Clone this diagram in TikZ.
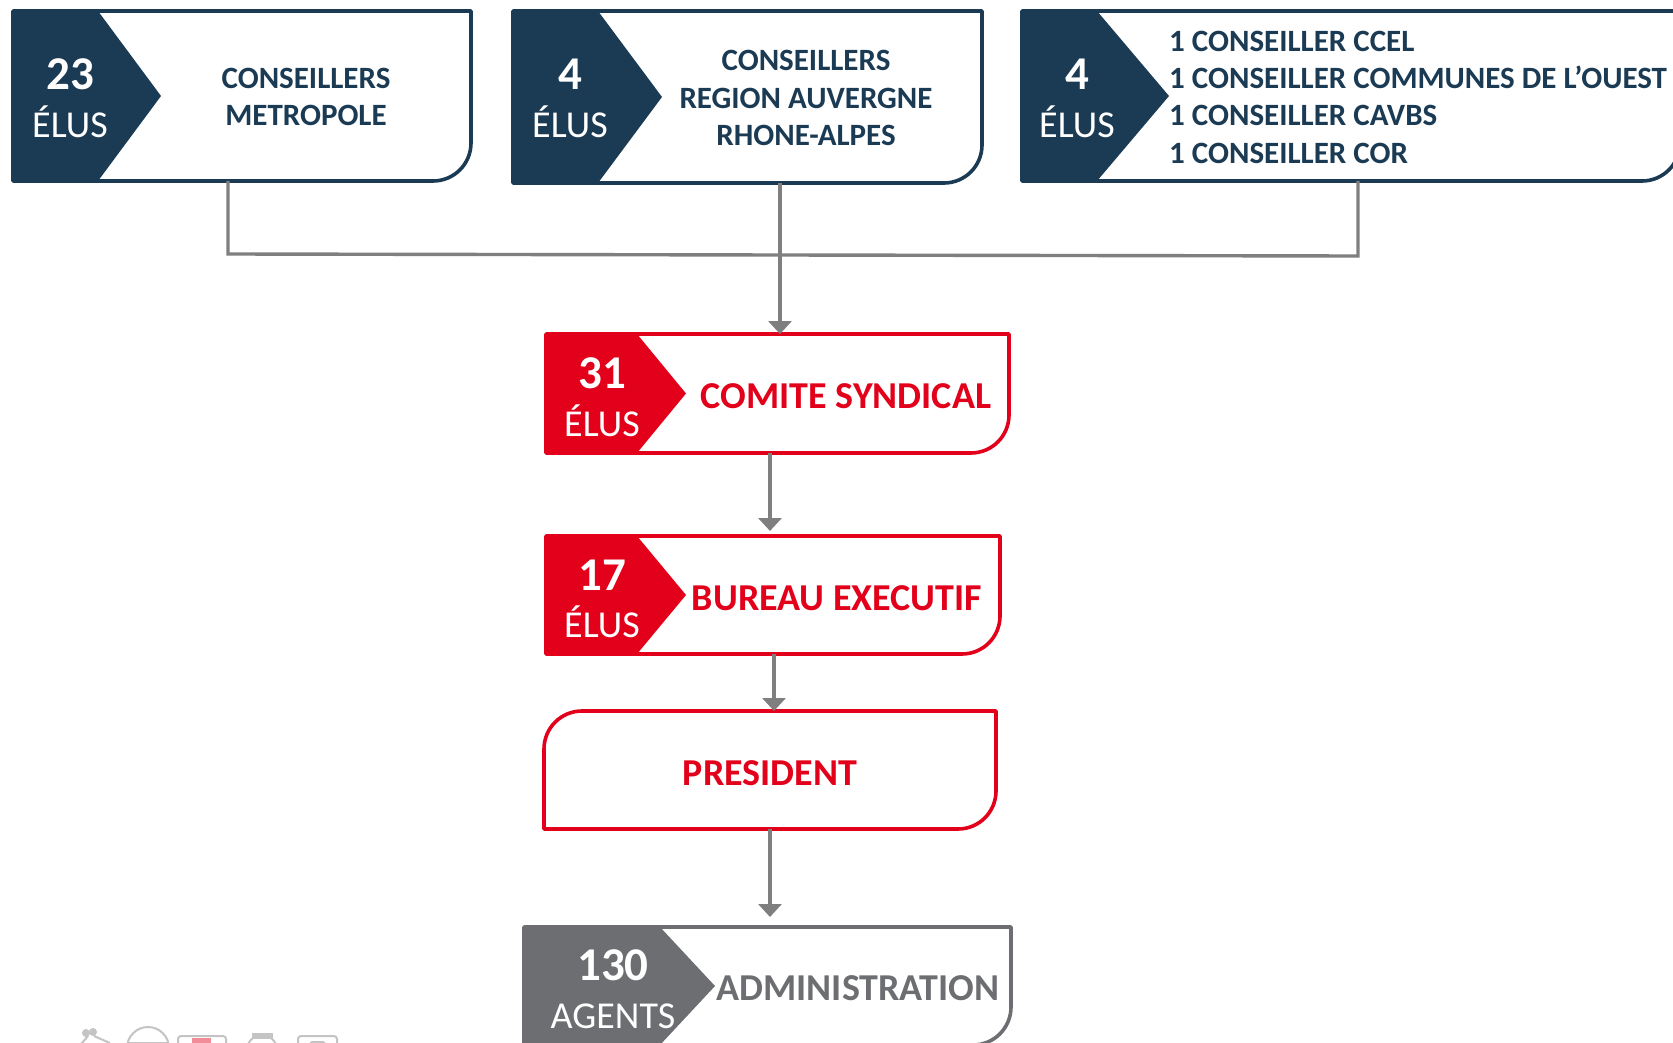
\documentclass[tikz,border=0pt]{standalone}
\usepackage{fontspec}
\setmainfont{Carlito}
\usetikzlibrary{arrows.meta,calc}
\definecolor{navy}{HTML}{1B3B54}
\definecolor{redc}{HTML}{E2001A}
\definecolor{grayc}{HTML}{6D6E71}
\definecolor{linec}{HTML}{7F7F7F}
\definecolor{iconc}{HTML}{C4C4C4}
\tikzset{
  x=1pt,y=-1pt,
  frame/.style={inner sep=0pt,outer sep=0pt,draw=none},
  numtext/.style={text=white,font=\fontsize{47}{47}\selectfont\bfseries,inner sep=0pt},
  unittext/.style={text=white,font=\fontsize{38}{38}\selectfont,inner sep=0pt},
  label/.style={inner sep=0pt,align=center},
  navylabel/.style={label,text=navy,font=\fontsize{31}{37.3}\selectfont\bfseries},
  redlabel/.style={label,text=redc,font=\fontsize{38}{38}\selectfont\bfseries},
  link/.style={draw=linec,line width=3.4pt},
  arrow/.style={link,-{Triangle[length=13pt,width=23pt]}},
  icon/.style={draw=iconc,line width=2pt},
}
% name, x1, y1, x2, y2, base x, tip x, colour
\newcommand{\chevbox}[8]{%
  \node[frame,minimum width=#4pt-#2pt,minimum height=#5pt-#3pt,anchor=north west] (#1) at (#2,#3) {};
  \draw[#8,line width=3.6pt,line join=round] (#2,#3) -- (#4,#3) -- (#4,#5-38) arc[start angle=0,end angle=90,radius=38pt,y radius=-38pt] -- (#2,#5) -- cycle;
  \fill[#8] (#2,#3) -- (#6,#3) -- (#7,{(#3+#5)/2}) -- (#6,#5) -- (#2,#5) -- cycle;
}
\begin{document}
\begin{tikzpicture}
\useasboundingbox (0,0) rectangle (1673,1043);
\clip (0,0) rectangle (1673,1043);
\fill[white] (0,0) rectangle (1673,1043);

\chevbox{metro}{13}{11}{471}{181}{98}{161}{navy}
\chevbox{region}{513}{11}{982}{183}{598}{662}{navy}
\chevbox{ouest}{1022}{11}{1680}{181}{1097}{1169}{navy}
\chevbox{comite}{546}{334}{1009}{453}{637}{686}{redc}
\chevbox{bureau}{546}{536}{1000}{654}{637}{686}{redc}
\chevbox{admin}{524}{927}{1011}{1045}{660}{715}{grayc}

% president
\node[frame,minimum width=452pt,minimum height=118pt,anchor=north west] (pres) at (544,711) {};
\draw[redc,line width=3.6pt,line join=round] (582,711) -- (996,711) -- (996,791)
  arc[start angle=0,end angle=90,radius=38pt,y radius=-38pt] -- (544,829) -- (544,749)
  arc[start angle=180,end angle=270,radius=38pt,y radius=-38pt] -- cycle;

% numbers and units
\node[numtext] (n1) at (70,74) {23};
\node[unittext] (u1) at (70,122) {ÉLUS};
\node[numtext] (n2) at (570,74) {4};
\node[unittext] (u2) at (570,122) {ÉLUS};
\node[numtext] (n3) at (1077,74) {4};
\node[unittext] (u3) at (1077,122) {ÉLUS};
\node[numtext] (n4) at (602,373) {31};
\node[unittext] (u4) at (602,421) {ÉLUS};
\node[numtext] (n5) at (602,575) {17};
\node[unittext] (u5) at (602,622) {ÉLUS};
\node[numtext] (n6) at (613,965) {130};
\node[unittext] (u6) at (613,1016) {AGENTS};

% labels
\node[navylabel] (t1) at (306,97) {CONSEILLERS\\METROPOLE};
\node[navylabel] (t2) at (806,98) {CONSEILLERS\\REGION AUVERGNE\\RHONE-ALPES};
\node[navylabel,align=left,anchor=west] (t3) at (1169,97) {1 CONSEILLER CCEL\\1 CONSEILLER COMMUNES DE L’OUEST\\1 CONSEILLER CAVBS\\1 CONSEILLER COR};
\node[redlabel] (t4) at (846,396) {COMITE SYNDICAL};
\node[redlabel] (t5) at (837,598) {BUREAU EXECUTIF};
\node[redlabel] (t6) at (770,773) {PRESIDENT};
\node[redlabel,text=grayc] (t7) at (858,988) {ADMINISTRATION};

% connectors
\coordinate (merge) at (780,255);
\coordinate (aPres) at (770,917);
\draw[link] (228,0 |- metro.south) -- (228,254) -- (merge);
\draw[link] (1358,0 |- ouest.south) -- (1358,256) -- (merge);
\draw[arrow] (780,0 |- region.south) -- (780,0 |- comite.north);
\draw[arrow] (770,0 |- comite.south) -- (770,531);
\draw[arrow] (774,0 |- bureau.south) -- (774,0 |- pres.north);
\draw[arrow] (770,0 |- pres.south) -- (aPres);

% cut-off icons at the foot of the picture
\draw[icon] (69,1050) -- (82,1043) -- (88,1036);
\draw[icon] (94,1036) -- (110,1043);
\fill[iconc] (93,1032) circle (4pt);
\fill[iconc] (86,1033) circle (4pt);
\draw[icon] (148,1048) circle (21pt);
\draw[icon] (127,1043) -- (169,1043);
\draw[icon,rounded corners=3pt] (178,1050) -- (178,1036) -- (226,1036) -- (226,1050);
\fill[redc!45] (192,1038) rectangle (211,1050);
\draw[icon] (262,1050) circle (15pt);
\fill[iconc] (252,1033) rectangle (273,1039);
\draw[icon,rounded corners=3pt] (298,1050) -- (298,1036) -- (337,1036) -- (337,1050);
\draw[icon] (306,1047) -- (312,1042) -- (323,1042) -- (329,1047);
\end{tikzpicture}
\end{document}
